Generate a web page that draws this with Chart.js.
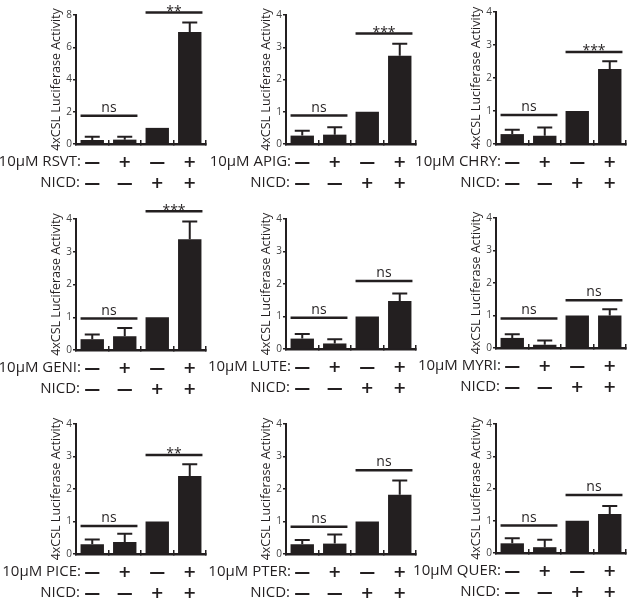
<!DOCTYPE html>
<html>
<head>
<meta charset="utf-8">
<script src="https://cdn.jsdelivr.net/npm/chart.js@4/dist/chart.umd.min.js"></script>
<style>
  html, body { margin: 0; padding: 0; background: #fff; overflow: hidden; }
  #wrap { position: relative; width: 629px; height: 600px; overflow: hidden; }
  #wrap canvas { position: absolute; }
</style>
</head>
<body>
<div id="wrap"></div>
<script>
// Data, one entry per panel (row by row)
const compounds = ['RSVT', 'APIG', 'CHRY', 'GENI', 'LUTE', 'MYRI', 'PICE', 'PTER', 'QUER'];
const treatmentSigns = ['—', '+', '—', '+'];
const nicdSigns = ['—', '—', '+', '+'];
const means = [
  [0.25, 0.27, 1, 6.95],
  [0.26, 0.29, 1, 2.74],
  [0.30, 0.25, 1, 2.27],
  [0.33, 0.42, 1, 3.38],
  [0.32, 0.17, 1, 1.48],
  [0.31, 0.10, 1, 1.00],
  [0.30, 0.37, 1, 2.40],
  [0.30, 0.32, 1, 1.82],
  [0.30, 0.18, 1, 1.21]
];
const sems = [
  [0.20, 0.18, 0, 0.58],
  [0.15, 0.23, 0, 0.37],
  [0.13, 0.25, 0, 0.24],
  [0.14, 0.25, 0, 0.54],
  [0.14, 0.13, 0, 0.23],
  [0.11, 0.13, 0, 0.19],
  [0.15, 0.25, 0, 0.36],
  [0.13, 0.28, 0, 0.44],
  [0.16, 0.23, 0, 0.25]
];
const sigLevels = [
  [1.75, 8.16], [0.88, 3.43], [0.88, 2.79],
  [0.96, 4.24], [0.96, 2.09], [0.91, 1.47],
  [0.86, 3.05], [0.84, 2.58], [0.85, 1.80]
];
const sigLabels = [
  ['ns', '**'], ['ns', '***'], ['ns', '***'],
  ['ns', '***'], ['ns', 'ns'], ['ns', 'ns'],
  ['ns', '**'], ['ns', 'ns'], ['ns', 'ns']
];
const yMax = [8, 4, 4, 4, 4, 4, 4, 4, 4];
const yStep = [2, 1, 1, 1, 1, 1, 1, 1, 1];

// Layout of each panel's plot area (px, relative to its 210x200 cell)
const areaTop = [15, 15, 12, 19, 19, 18, 24, 24, 24];
const areaBottom = [144, 144, 144, 150, 149, 148, 154, 154, 153];
const INK = '#231f20';
const FONT = "'Open Sans', sans-serif";
const CW = 222, CH = 222, SHIFT_X = 12, SHIFT_Y = 10;

const annotate = {
  id: 'annotate',
  afterDatasetsDraw(chart, args, opts) {
    const { ctx, chartArea } = chart;
    const y = chart.scales.y;
    const bars = chart.getDatasetMeta(0).data;
    const p = opts.panel;
    ctx.save();
    ctx.strokeStyle = INK;
    ctx.fillStyle = INK;

    // error bars (upper only)
    ctx.lineWidth = 2;
    bars.forEach((bar, i) => {
      const e = sems[p][i];
      if (!e) return;
      const top = y.getPixelForValue(means[p][i] + e);
      ctx.beginPath();
      ctx.moveTo(bar.x, bar.y);
      ctx.lineTo(bar.x, top);
      ctx.moveTo(bar.x - 7.5, top);
      ctx.lineTo(bar.x + 7.5, top);
      ctx.stroke();
    });

    // significance bars
    ctx.lineWidth = 2.5;
    ctx.font = '14px ' + FONT;
    ctx.textAlign = 'center';
    ctx.textBaseline = 'alphabetic';
    [[0, 1], [2, 3]].forEach(([a, b], k) => {
      const ly = y.getPixelForValue(sigLevels[p][k]);
      const x1 = bars[a].x - bars[a].width / 2;
      const x2 = bars[b].x + bars[b].width / 2 + 1;
      ctx.beginPath();
      ctx.moveTo(x1, ly);
      ctx.lineTo(x2, ly);
      ctx.stroke();
      const txt = sigLabels[p][k];
      ctx.fillText(txt, (x1 + x2) / 2, txt.startsWith('*') ? ly + 3.5 : ly - 4);
    });

    // row headers for the +/- table
    ctx.font = '15px ' + FONT;
    ctx.textAlign = 'right';
    ctx.textBaseline = 'middle';
    ctx.fillText('10μM ' + compounds[p] + ':', chartArea.left + 5, chartArea.bottom + 18);
    ctx.fillText('NICD:', chartArea.left + 4, chartArea.bottom + 39);
    ctx.restore();
  }
};

const wrap = document.getElementById('wrap');
compounds.forEach((name, p) => {
  const col = p % 3, row = Math.floor(p / 3);
  const canvas = document.createElement('canvas');
  canvas.width = CW;
  canvas.height = CH;
  canvas.style.left = (col * 210 - SHIFT_X) + 'px';
  canvas.style.top = (row * 200 - SHIFT_Y) + 'px';
  wrap.appendChild(canvas);

  new Chart(canvas, {
    type: 'bar',
    data: {
      labels: treatmentSigns.map((t, i) => [t, nicdSigns[i]]),
      datasets: [{
        data: means[p],
        backgroundColor: INK,
        borderWidth: 0,
        barPercentage: 0.72,
        categoryPercentage: 1
      }]
    },
    options: {
      responsive: false,
      animation: false,
      layout: {
        padding: {
          left: 76 + SHIFT_X - 27,
          right: CW - (206 + SHIFT_X),
          top: areaTop[p] + SHIFT_Y,
          bottom: CH - (areaBottom[p] + SHIFT_Y) - 50
        }
      },
      plugins: {
        legend: { display: false },
        tooltip: { enabled: false },
        annotate: { panel: p }
      },
      scales: {
        x: {
          afterFit: s => { s.height = 50; },
          grid: { drawOnChartArea: false, drawTicks: true, tickLength: -4, color: INK, lineWidth: 1.5, offset: true },
          border: { color: INK, width: 2.5 },
          ticks: {
            autoSkip: false, maxRotation: 0, padding: 12, color: INK,
            font: { family: "'DejaVu Sans', sans-serif", size: 16, weight: 'bold', lineHeight: 21 / 16 }
          }
        },
        y: {
          min: 0,
          max: yMax[p],
          afterFit: s => { s.width = 27; },
          grid: { drawOnChartArea: false, tickLength: 3, color: INK, lineWidth: 1.5 },
          border: { color: INK, width: 2 },
          ticks: { stepSize: yStep[p], padding: 1, color: '#444', font: { family: FONT, size: 10 } },
          title: {
            display: true, text: '4xCSL Luciferase Activity', padding: 0, color: INK,
            font: { family: FONT, size: 12.5 }
          }
        }
      }
    },
    plugins: [annotate]
  });
});
</script>
</body>
</html>
